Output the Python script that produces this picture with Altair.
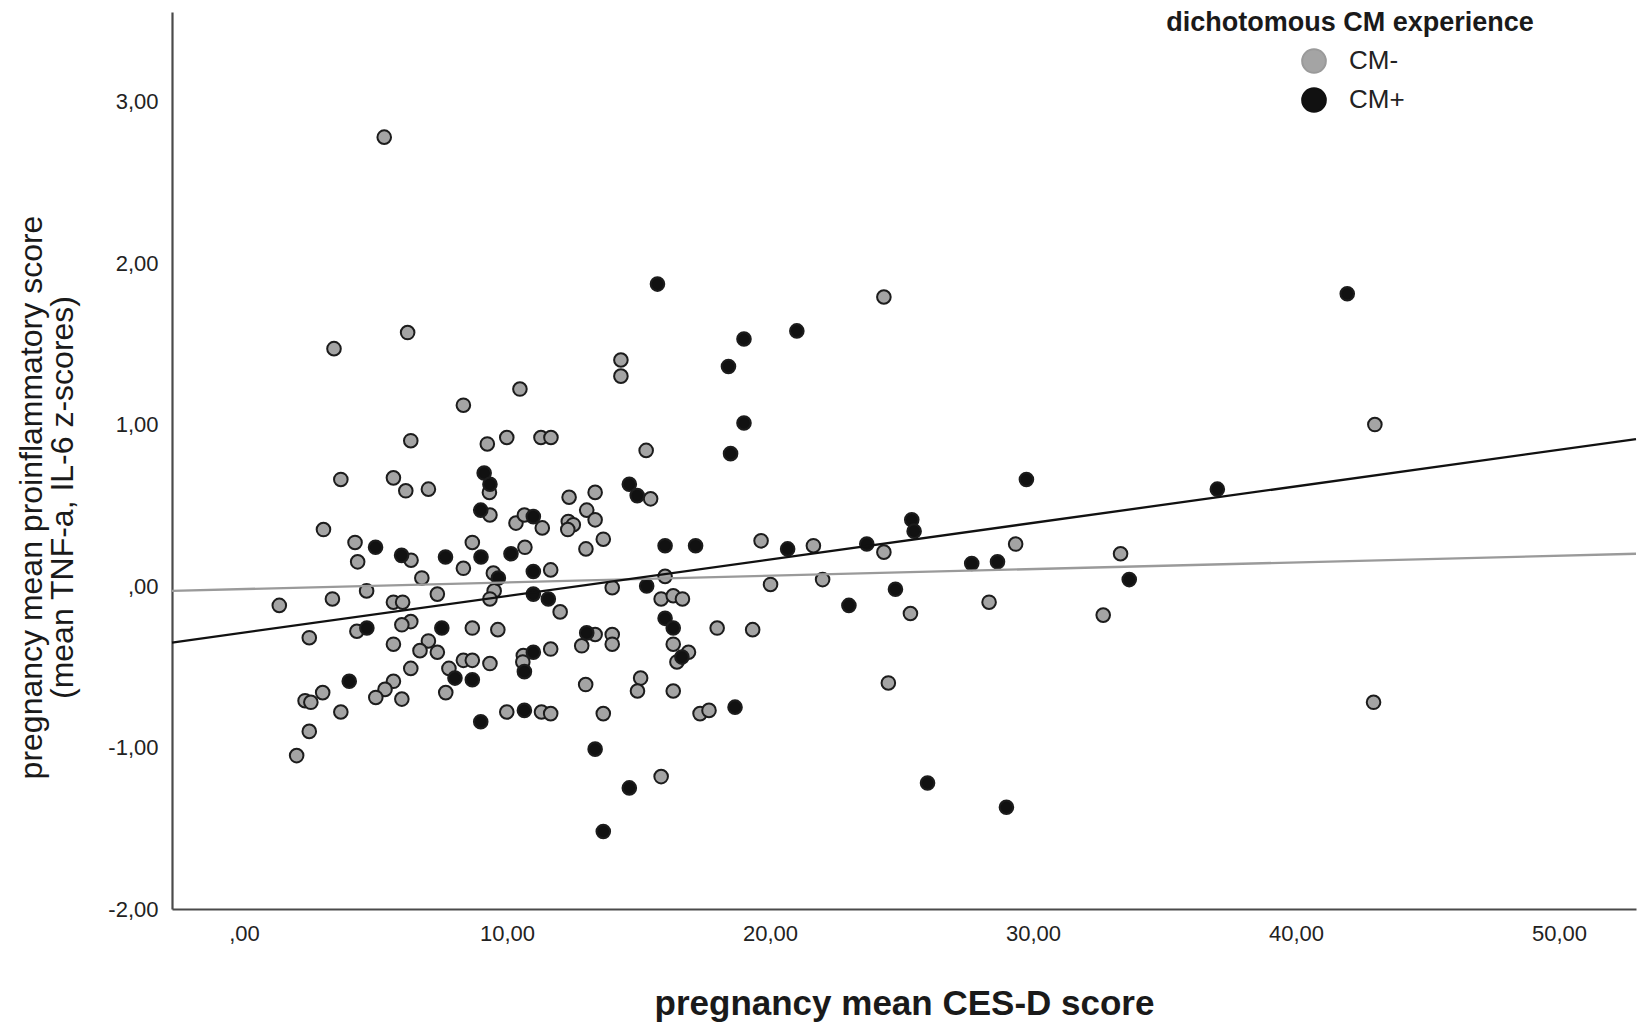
import altair as alt
import pandas as pd

# ---- data ----
groups = ["CM-", "CM+"]

cm_minus_x = [10.49, 14.33, 14.33, 8.34, 6.34, 9.25, 9.99, 11.29, 11.67, 3.68,
              5.68, 6.15, 7.01, 9.33, 9.35, 10.34, 10.66, 11.34, 12.36, 13.35,
              13.03, 12.33, 12.52, 12.31, 13.35, 13.66, 13.00, 3.02, 4.22, 4.32,
              6.35, 8.68, 10.68, 8.34, 6.76, 9.48, 11.66, 14.00, 4.66, 3.36,
              1.34, 5.68, 6.03, 7.35, 9.51, 9.35, 12.02, 6.34, 6.00, 4.29,
              8.68, 9.65, 2.48, 5.68, 7.01, 6.69, 7.35, 6.34, 7.79, 8.34,
              8.68, 9.35, 7.67, 5.68, 5.36, 5.01, 6.00, 2.99, 2.32, 2.54,
              3.68, 2.48, 2.00, 9.99, 11.31, 11.66, 10.62, 10.60, 11.66, 13.35,
              12.84, 14.00, 14.00, 12.99, 13.66, 15.08, 14.96, 15.29, 15.46, 19.66,
              21.65, 24.33, 29.34, 16.01, 20.02, 22.00, 25.34, 28.33, 15.86, 16.32,
              16.67, 17.99, 19.34, 16.32, 16.90, 16.46, 16.32, 17.34, 17.68, 24.50,
              15.86, 5.33, 3.42, 6.22, 24.33, 43.00, 33.33, 32.67, 42.95]
cm_minus_y = [1.22, 1.30, 1.40, 1.12, 0.90, 0.88, 0.92, 0.92, 0.92, 0.66,
              0.67, 0.59, 0.60, 0.58, 0.44, 0.39, 0.44, 0.36, 0.55, 0.58,
              0.47, 0.40, 0.38, 0.35, 0.41, 0.29, 0.23, 0.35, 0.27, 0.15,
              0.16, 0.27, 0.24, 0.11, 0.05, 0.08, 0.10, -0.01, -0.03, -0.08,
              -0.12, -0.10, -0.10, -0.05, -0.03, -0.08, -0.16, -0.22, -0.24, -0.28,
              -0.26, -0.27, -0.32, -0.36, -0.34, -0.40, -0.41, -0.51, -0.51, -0.46,
              -0.46, -0.48, -0.66, -0.59, -0.64, -0.69, -0.70, -0.66, -0.71, -0.72,
              -0.78, -0.90, -1.05, -0.78, -0.78, -0.79, -0.43, -0.47, -0.39, -0.30,
              -0.37, -0.30, -0.36, -0.61, -0.79, -0.57, -0.65, 0.84, 0.54, 0.28,
              0.25, 0.21, 0.26, 0.06, 0.01, 0.04, -0.17, -0.10, -0.08, -0.06,
              -0.08, -0.26, -0.27, -0.36, -0.41, -0.47, -0.65, -0.79, -0.77, -0.60,
              -1.18, 2.78, 1.47, 1.57, 1.79, 1.00, 0.20, -0.18, -0.72]

cm_plus_x = [9.13, 9.35, 9.00, 11.00, 14.65, 14.95, 5.00, 5.99, 7.66, 9.01,
             10.15, 9.67, 11.00, 11.00, 11.57, 4.67, 7.52, 8.02, 8.68, 4.00,
             9.00, 10.66, 11.00, 10.66, 13.03, 13.35, 14.65, 13.66, 19.01, 18.50,
             29.75, 16.01, 17.17, 20.67, 23.68, 25.39, 25.48, 27.67, 28.65, 15.31,
             24.77, 23.00, 16.01, 16.32, 16.65, 18.67, 25.99, 28.99, 15.72, 21.02,
             19.01, 18.42, 37.01, 33.66, 41.95]
cm_plus_y = [0.70, 0.63, 0.47, 0.43, 0.63, 0.56, 0.24, 0.19, 0.18, 0.18,
             0.20, 0.05, 0.09, -0.05, -0.08, -0.26, -0.26, -0.57, -0.58, -0.59,
             -0.84, -0.77, -0.41, -0.53, -0.29, -1.01, -1.25, -1.52, 1.01, 0.82,
             0.66, 0.25, 0.25, 0.23, 0.26, 0.41, 0.34, 0.14, 0.15, 0.00,
             -0.02, -0.12, -0.20, -0.26, -0.44, -0.75, -1.22, -1.37, 1.87, 1.58,
             1.53, 1.36, 0.60, 0.04, 1.81]

# fit lines (end points)
fit_x = [-2.74, 52.93]
fit_minus_y = [-0.03, 0.20]
fit_plus_y = [-0.35, 0.91]

x_ticks = [0, 10, 20, 30, 40, 50]
y_ticks = [-2, -1, 0, 1, 2, 3]

legend_title = "dichotomous CM experience"
x_title = "pregnancy mean CES-D score"
y_title = ["pregnancy mean proinflammatory score", "(mean TNF-a, IL-6 z-scores)"]

# ---- tables ----
pts = pd.DataFrame({
    "x": cm_minus_x + cm_plus_x,
    "y": cm_minus_y + cm_plus_y,
    "group": [groups[0]] * len(cm_minus_x) + [groups[1]] * len(cm_plus_x),
})
fit = pd.DataFrame({
    "x": fit_x + fit_x,
    "y": fit_minus_y + fit_plus_y,
    "group": [groups[0]] * 2 + [groups[1]] * 2,
})
ttl = pd.DataFrame({"t": [legend_title]})

FONT = "Liberation Sans"
label_expr = ("datum.value == 0 ? ',00' : (datum.value < 0 ? '-' : '') + "
              "replace(format(abs(datum.value), '.2f'), '.', ',')")

xs = alt.Scale(domain=[-2.74, 52.93], nice=False, zero=False)
ys = alt.Scale(domain=[-2.0, 3.555], nice=False, zero=False)

x_axis = alt.Axis(values=x_ticks, labelExpr=label_expr, title=x_title, grid=False,
                  ticks=False, domainColor="#4a4a4a", domainWidth=2.2,
                  labelFont=FONT, labelFontSize=22, labelColor="#222222", labelPadding=14,
                  titleFont=FONT, titleFontSize=35, titleFontWeight="bold", titleColor="#1a1a1a",
                  titleBaseline="middle", titleY=94)
y_axis = alt.Axis(values=y_ticks, labelExpr=label_expr, title=y_title, grid=False,
                  ticks=False, domainColor="#4a4a4a", domainWidth=2.2,
                  labelFont=FONT, labelFontSize=22, labelColor="#222222", labelPadding=14,
                  titleFont=FONT, titleFontSize=32, titleFontWeight="normal", titleColor="#1a1a1a",
                  titleAngle=-90, titleAlign="center", titleBaseline="middle",
                  titleX=-141, titleY=485, titleLineHeight=31)

points = alt.Chart(pts).mark_circle(size=185, opacity=1, stroke="#1c1c1c", strokeWidth=2).encode(
    x=alt.X("x:Q", scale=xs, axis=x_axis),
    y=alt.Y("y:Q", scale=ys, axis=y_axis),
    fill=alt.Fill("group:N", scale=alt.Scale(domain=groups, range=["#a4a4a4", "#111111"]),
                  legend=alt.Legend(title=None, orient="none", legendX=1129, legendY=36,
                                    symbolType="circle", symbolSize=560, symbolStrokeWidth=2,
                                    symbolStrokeColor="#1c1c1c",
                                    labelFont=FONT, labelFontSize=26, labelColor="#222222",
                                    labelOffset=22, rowPadding=7, padding=0)),
)

lines = alt.Chart(fit).mark_line(strokeWidth=2.3).encode(
    x=alt.X("x:Q", scale=xs),
    y=alt.Y("y:Q", scale=ys),
    detail="group:N",
    stroke=alt.Stroke("group:N", scale=alt.Scale(domain=groups, range=["#9a9a9a", "#111111"]),
                      legend=None),
)

title_text = alt.Chart(ttl).mark_text(font=FONT, fontSize=27, fontWeight="bold",
                                      align="center", baseline="middle", color="#1a1a1a").encode(
    x=alt.value(1178), y=alt.value(11), text="t:N")

chart = alt.layer(points, lines, title_text).properties(
    width=1464, height=897, background="white",
    padding={"left": 164, "top": 4, "right": 4, "bottom": 114},
    autosize=alt.AutoSizeParams(type="none"),
).configure_view(stroke=None)

chart.save("out.html", embed_options={"renderer": "svg", "actions": False})
